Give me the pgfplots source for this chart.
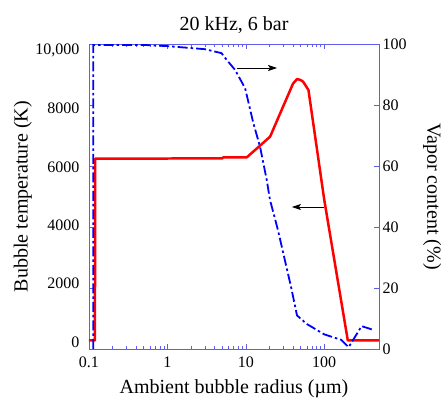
\documentclass[border=0pt]{standalone}
\usepackage{pgfplots}
\pgfplotsset{compat=1.18}
\usepackage{fontspec}
\setmainfont{Liberation Serif}
\usetikzlibrary{arrows.meta}

\definecolor{framecol}{RGB}{95,95,235}

\begin{document}
\begin{tikzpicture}
\path[use as bounding box] (-89bp,-49bp) rectangle (353bp,349bp);

% bubble temperature, left axis (frame, ticks, x labels)
\begin{axis}[
  scale only axis, width=290bp, height=305bp,
  at={(0,0)}, anchor=south west,
  xmode=log, xmin=0.1, xmax=500,
  axis line style={framecol, line width=0.8pt},
  every tick/.style={framecol, line width=0.6pt},
  tick align=inside,
  major tick length=5bp, minor tick length=3bp,
  tick label style={font=\fontsize{16bp}{18bp}\selectfont, black},
  xticklabel style={yshift=-4bp},
  label style={font=\fontsize{20bp}{22bp}\selectfont, black},
  /pgf/number format/assume math mode=true,
  ymin=0, ymax=10000,
  xtick={0.1,1,10,100}, xticklabels={0.1,1,10,100},
  xtick pos=both, ytick pos=left,
  ytick={0,2000,4000,6000,8000,10000},
  yticklabels={},
  scaled y ticks=false,
  xlabel={Ambient bubble radius (\textmu m)},
  xlabel style={at={(axis description cs:0.5,-0.13)}, anchor=center},
  ylabel={Bubble temperature (K)},
  ylabel style={at={(axis description cs:-0.228,0.5)}, anchor=center, rotate=0},
  clip=false,
]
\addplot[red, line width=2.5pt, line join=round] coordinates {
  (0.1,280) (0.119,280) (0.12,6240) (5,6250) (5.2,6285) (10.3,6285)
  (20.4,6960) (40,8700) (45,8850) (50,8820) (54,8760) (63,8490)
  (100,4900) (200,280) (500,280)
};
\draw[black, line width=0.8pt, -{Stealth[length=9bp,width=6bp,inset=2bp]}]
  (axis cs:7.7,9213) -- (axis cs:25,9213);
\draw[black, line width=0.8pt, -{Stealth[length=9bp,width=6bp,inset=2bp]}]
  (axis cs:99,4656) -- (axis cs:38.8,4656);
\node[font=\fontsize{20bp}{22bp}\selectfont, anchor=base]
  at (axis description cs:0.5,1.045) {20 kHz, 6 bar};
\end{axis}

% left tick numbers, set on their own scale
\begin{axis}[
  scale only axis, width=290bp, height=305bp,
  at={(0,0)}, anchor=south west,
  xmin=0, xmax=1,
  axis x line=none,
  axis y line*=left,
  y axis line style={draw=none},
  major tick length=0pt,
  ymin=-240, ymax=10205,
  ytick={0,2000,4000,6000,8000,10000},
  yticklabels={0,2000,4000,6000,8000,{10,000}},
  tick label style={font=\fontsize{16bp}{18bp}\selectfont, black},
  yticklabel style={xshift=-6bp},
  scaled y ticks=false,
]
\end{axis}

% vapor content, right axis
\begin{axis}[
  scale only axis, width=290bp, height=305bp,
  at={(0,0)}, anchor=south west,
  xmode=log, xmin=0.1, xmax=500,
  axis line style={framecol, line width=0.8pt},
  every tick/.style={framecol, line width=0.6pt},
  tick align=inside,
  major tick length=5bp, minor tick length=3bp,
  tick label style={font=\fontsize{16bp}{18bp}\selectfont, black},
  label style={font=\fontsize{20bp}{22bp}\selectfont, black},
  /pgf/number format/assume math mode=true,
  ymin=0, ymax=100,
  axis x line=none,
  axis y line*=right,
  ytick={0,20,40,60,80,100},
  yticklabels={0,20,40,60,80,100},
  ylabel={Vapor content (\%)},
  ylabel style={at={(axis description cs:1.183,0.5)}, anchor=center, rotate=180},
]
\addplot[blue, line width=1.8pt, dash pattern=on 10bp off 3bp on 2.5bp off 3bp] coordinates {
  (0.1135,0) (0.1135,99.7) (0.5,99.7) (1,99.3) (3,98.3) (4.9,97)
  (5.7,94.8) (7.3,91.5) (9.8,85.5) (12.5,74) (15.2,66.3) (18.5,55.4)
  (20.3,49) (25.7,39) (37.8,20.3) (45,11) (60,8.2) (100,4.8)
  (165,3) (205,0.6) (300,7.5) (430,6.2)
};
\end{axis}
\end{tikzpicture}
\end{document}
